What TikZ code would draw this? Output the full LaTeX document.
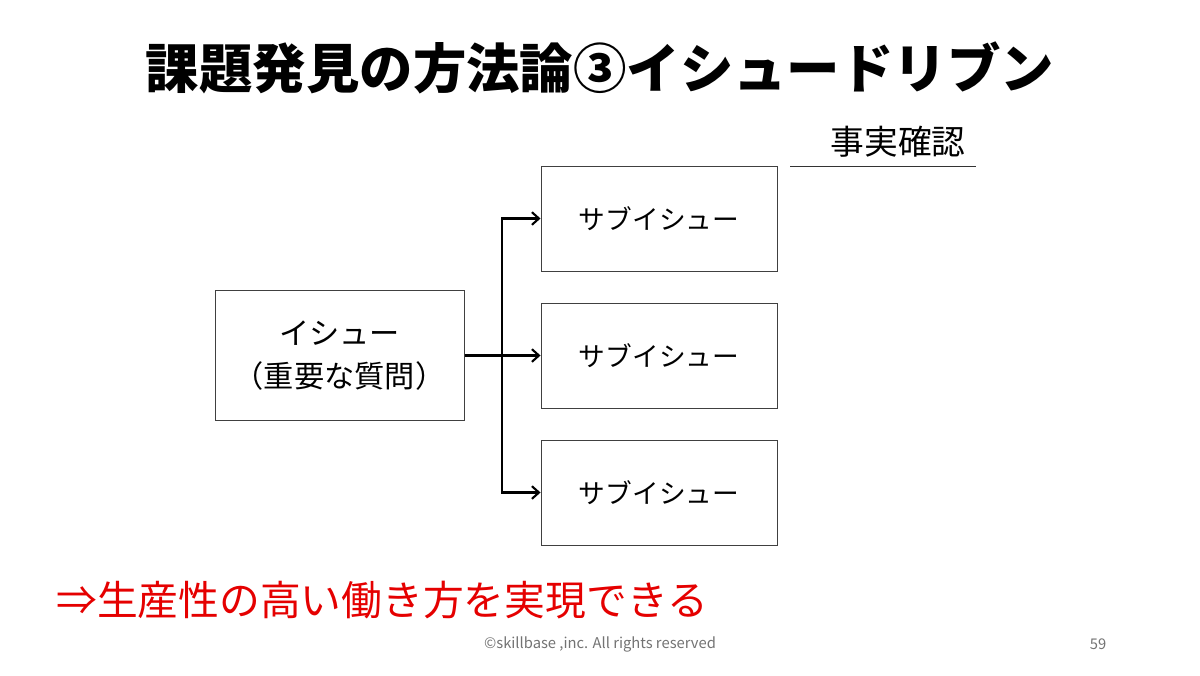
\documentclass[tikz,border=0pt]{standalone}
\usepackage{fontspec}
\newfontfamily\jp{Noto Sans CJK JP}
\usetikzlibrary{arrows.meta}
\begin{document}
\begin{tikzpicture}[x=1cm,y=1cm]

    \tikzset{
      issuebox/.style={
        draw=black!75,
        line width=0.7pt,
        minimum width=5.9cm,
        minimum height=2.625cm,
        inner sep=0pt,
        font=\jp\fontsize{19}{26}\selectfont,
      },
      link/.style={
        line width=1.5pt,
        -{Straight Barb[length=5pt,width=9pt]},
      },
    }
    \useasboundingbox[fill=white] (0,0) rectangle (30,-16.875);

	\node[font=\jp\bfseries\fontsize{38}{40}\selectfont] (title) at (15,-1.7) {課題発見の方法論③イシュードリブン};
	\node[font=\jp\fontsize{24}{26}\selectfont, inner sep=0pt] (fact) at (22.45,-3.55) {事実確認};
	\coordinate (ul) at (19.75,-4.15);
	\coordinate (ur) at (24.4,-4.15);
	\draw[color={black!80}, line width=0.7pt] (ul)--(ur);

	\node[issuebox, minimum width=6.225cm, minimum height=3.25cm, align=center,
	      font=\jp\fontsize{21.5}{34}\selectfont] (issue) at (8.4875,-8.8875) {\raisebox{-3pt}{イシュー}\\（重要な質問）};
	\node[issuebox] (sub1) at (16.475,-5.4625) {サブイシュー};
	\node[issuebox] (sub2) at (16.475,-8.8875) {サブイシュー};
	\node[issuebox] (sub3) at (16.475,-12.3125) {サブイシュー};

	\coordinate (fork) at (12.55,-8.8875);
	\draw[line width=1.5pt] (issue.east)--(fork);
	\draw[link] (fork)--(sub2.west);
	\draw[link] (fork)|-(sub1.west);
	\draw[link] (fork)|-(sub3.west);

	\node[font=\jp\fontsize{29}{32}\selectfont, text=red!90!black, inner sep=0pt] (result) at (9.55,-15) {⇒生産性の高い働き方を実現できる};
	\node[font=\jp\fontsize{10.5}{12}\selectfont, text=black!55, inner sep=0pt] (copy) at (15,-16.1) {©skillbase ,inc. All rights reserved};
	\node[font=\jp\fontsize{10.5}{12}\selectfont, text=black!55, inner sep=0pt] (page) at (27.45,-16.1) {59};

\end{tikzpicture}
\end{document}
